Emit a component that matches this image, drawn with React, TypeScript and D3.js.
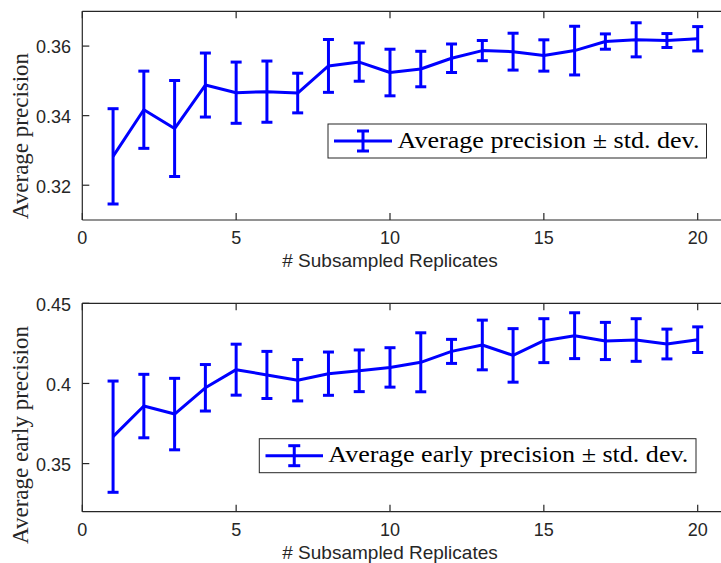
import React from "react";
import * as d3 from "d3";

const replicates = [1, 2, 3, 4, 5, 6, 7, 8, 9, 10, 11, 12, 13, 14, 15, 16, 17, 18, 19, 20];
const apMean = [0.3283, 0.3417, 0.3363, 0.3488, 0.3466, 0.3469, 0.3465, 0.3543, 0.3554, 0.3524, 0.3534, 0.3565, 0.3587, 0.3584, 0.3573, 0.3587, 0.3613, 0.3618, 0.3616, 0.3621];
const apStd = [0.0137, 0.0111, 0.0138, 0.0092, 0.0088, 0.0088, 0.0057, 0.0076, 0.0055, 0.0067, 0.0051, 0.0041, 0.0029, 0.0053, 0.0045, 0.0070, 0.0022, 0.0049, 0.0020, 0.0035];
const aepMean = [0.3668, 0.3859, 0.3809, 0.3973, 0.4086, 0.4053, 0.402, 0.4061, 0.4079, 0.41, 0.4132, 0.42, 0.424, 0.4175, 0.4267, 0.4298, 0.4265, 0.4271, 0.4246, 0.4273];
const aepStd = [0.0347, 0.0198, 0.0223, 0.0145, 0.0159, 0.0147, 0.0129, 0.0135, 0.0130, 0.0123, 0.0184, 0.0075, 0.0155, 0.0167, 0.0137, 0.0143, 0.0116, 0.0133, 0.0093, 0.0080];
const xTicks = [0, 5, 10, 15, 20];
const apTicks = [0.32, 0.34, 0.36];
const aepTicks = [0.35, 0.4, 0.45];
const xLabel = "# Subsampled Replicates";

const AX = "#262626";
const BLUE = "#0000ff";
const SANS = "Liberation Sans, Arial, Helvetica, sans-serif";
const SERIF = "Liberation Serif, Times New Roman, serif";

type PanelProps = {
  top: number;
  bottom: number;
  yDomain: [number, number];
  yTicks: number[];
  mean: number[];
  std: number[];
  yLabel: string;
  yLabelCenter: number;
  legendText: string;
  legend: { x0: number; x1: number; y0: number; y1: number; lineX0: number; lineX1: number; textX: number; textLen: number };
};

function Panel(p: PanelProps) {
  const left = 82.3;
  const x = d3.scaleLinear().domain([0, 21]).range([left, left + 21 * 30.77]);
  const y = d3.scaleLinear().domain(p.yDomain).range([p.bottom, p.top]);
  const right = x(21);
  const line = d3
    .line<number>()
    .x((_, i) => x(replicates[i]))
    .y((d) => y(d));
  const cap = 5.5;
  const tl = 7;
  const lg = p.legend;
  const lgMid = (lg.y0 + lg.y1) / 2;
  const lgBarX = (lg.lineX0 + lg.lineX1) / 2;
  return (
    <g>
      <line x1={left} x2={right} y1={p.top} y2={p.top} stroke={AX} strokeWidth={1.2} />
      <line x1={left} x2={right} y1={p.bottom} y2={p.bottom} stroke={AX} strokeWidth={1.2} />
      <line x1={left} x2={left} y1={p.top} y2={p.bottom} stroke={AX} strokeWidth={1.2} />
      {xTicks.map((t) => (
        <g key={"xt" + t}>
          <line x1={x(t)} x2={x(t)} y1={p.bottom} y2={p.bottom - tl} stroke={AX} strokeWidth={1.2} />
          <line x1={x(t)} x2={x(t)} y1={p.top} y2={p.top + tl} stroke={AX} strokeWidth={1.2} />
          <text x={x(t)} y={p.bottom + 24} textAnchor="middle" fontFamily={SANS} fontSize={18} fill={AX}>
            {t}
          </text>
        </g>
      ))}
      {p.yTicks.map((t) => (
        <g key={"yt" + t}>
          <line x1={left} x2={left + tl} y1={y(t)} y2={y(t)} stroke={AX} strokeWidth={1.2} />
          <text x={71} y={y(t) + 1} dy="0.35em" textAnchor="end" fontFamily={SANS} fontSize={18} fill={AX}>
            {d3.format("")(t)}
          </text>
        </g>
      ))}
      <text x={390} y={p.bottom + 47} textAnchor="middle" fontFamily={SANS} fontSize={19} fill={AX}>
        {xLabel}
      </text>
      <text
        transform={`translate(28,${p.yLabelCenter}) rotate(-90)`}
        textAnchor="middle"
        fontFamily={SERIF}
        fontSize={23}
        fill={AX}
      >
        {p.yLabel}
      </text>
      <path d={line(p.mean) || ""} fill="none" stroke={BLUE} strokeWidth={3} strokeLinejoin="round" />
      {p.mean.map((m, i) => {
        const cx = x(replicates[i]);
        const yt = y(m + p.std[i]);
        const yb = y(m - p.std[i]);
        return (
          <g key={"eb" + i} stroke={BLUE} strokeWidth={3}>
            <line x1={cx} x2={cx} y1={yt} y2={yb} />
            <line x1={cx - cap} x2={cx + cap} y1={yt} y2={yt} />
            <line x1={cx - cap} x2={cx + cap} y1={yb} y2={yb} />
          </g>
        );
      })}
      <rect x={lg.x0} y={lg.y0} width={lg.x1 - lg.x0} height={lg.y1 - lg.y0} fill="#fff" stroke={AX} strokeWidth={1} />
      <g stroke={BLUE} strokeWidth={3}>
        <line x1={lg.lineX0} x2={lg.lineX1} y1={lgMid} y2={lgMid} />
        <line x1={lgBarX} x2={lgBarX} y1={lgMid - 10} y2={lgMid + 10} />
        <line x1={lgBarX - 6} x2={lgBarX + 6} y1={lgMid - 10} y2={lgMid - 10} />
        <line x1={lgBarX - 6} x2={lgBarX + 6} y1={lgMid + 10} y2={lgMid + 10} />
      </g>
      <text
        x={lg.textX}
        y={lgMid + 6.5}
        fontFamily={SERIF}
        fontSize={23}
        fill="#000"
        textLength={lg.textLen}
        lengthAdjust="spacingAndGlyphs"
      >
        {p.legendText}
      </text>
    </g>
  );
}

export default function App() {
  return (
    <svg width={721} height={563} style={{ position: "absolute", left: 0, top: 0, background: "#fff" }}>
      <rect x={0} y={0} width={721} height={563} fill="#fff" />
      <Panel
        top={11.3}
        bottom={220}
        yDomain={[0.31, 0.37]}
        yTicks={apTicks}
        mean={apMean}
        std={apStd}
        yLabel="Average precision"
        yLabelCenter={136}
        legendText="Average precision ± std. dev."
        legend={{ x0: 328, x1: 706.5, y0: 124, y1: 158, lineX0: 334, lineX1: 392, textX: 397.5, textLen: 302 }}
      />
      <Panel
        top={303.3}
        bottom={511.7}
        yDomain={[0.32, 0.45]}
        yTicks={aepTicks}
        mean={aepMean}
        std={aepStd}
        yLabel="Average early precision"
        yLabelCenter={435}
        legendText="Average early precision ± std. dev."
        legend={{ x0: 259.3, x1: 696, y0: 438.7, y1: 472.7, lineX0: 265.5, lineX1: 323, textX: 328.3, textLen: 360 }}
      />
    </svg>
  );
}
